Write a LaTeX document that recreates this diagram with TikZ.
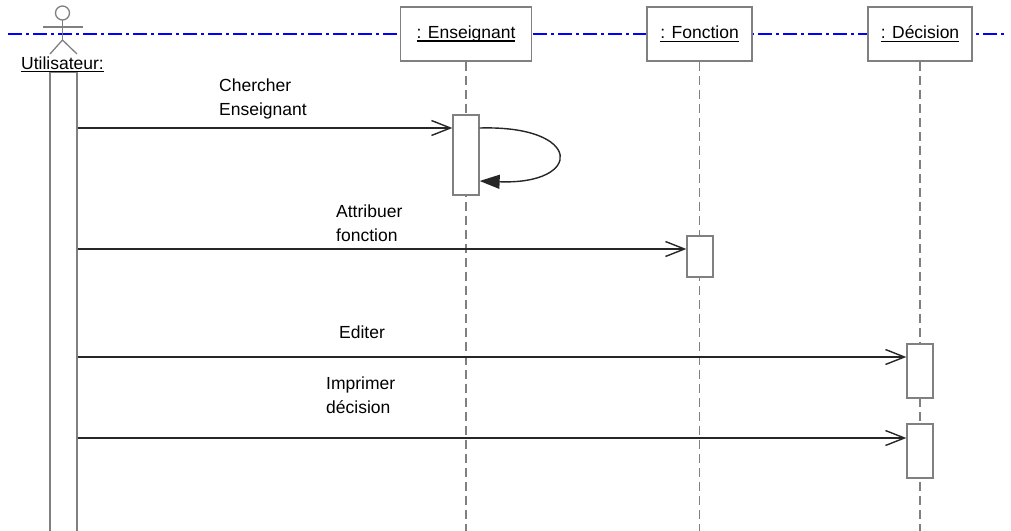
\documentclass[tikz,border=0pt]{standalone}
\usepackage{fontspec}
\setmainfont{Liberation Sans}
\usetikzlibrary{arrows.meta}
\definecolor{linegray}{RGB}{128,128,128}
\definecolor{sepblue}{RGB}{0,0,255}
\newcommand\ulabel[1]{{\setbox0\hbox{#1}\rlap{\rule[-3pt]{\wd0}{1.2pt}}\box0}}
\tikzset{
  obj/.style={draw=linegray, fill=white, line width=1.3pt, inner sep=0pt, minimum height=54pt, font=\fontsize{17.5}{21}\selectfont},
  act/.style={draw=linegray, fill=white, line width=1.3pt, inner sep=0pt, minimum width=26pt},
  life/.style={draw=linegray, line width=1.3pt, dash pattern=on 9pt off 5pt},
  msg/.style={draw=black!85, line width=1.4pt, -{Straight Barb[length=19pt,width=15pt]}},
  selfmsg/.style={draw=black!85, line width=1.4pt, -{Triangle[length=20pt,width=14pt]}},
  lbl/.style={anchor=north west, inner sep=0pt, align=left, font=\fontsize{17.5}{24}\selectfont},
}

\begin{document}
\begin{tikzpicture}[x=1pt, y=-1pt]
		%%%%% START %%%%%
		\useasboundingbox (0, 0) rectangle (1011, 530);
		\coordinate (bot) at (0, 540);
		
		\draw[sepblue, line width=1.3pt, dash pattern=on 14pt off 4pt on 3pt off 4pt] (8, 34) -- (1005, 34);
		
		% actor
		\draw[linegray, line width=1.3pt] (62.5, 13) circle (7);
		\draw[linegray, line width=1.3pt] (62.5, 20) -- (62.5, 40);
		\draw[linegray, line width=1.3pt] (43, 27) -- (83, 27);
		\draw[linegray, line width=1.3pt] (50, 54) -- (62.5, 40) -- (77, 54);
		\node[act, minimum width=27pt, minimum height=473pt] (usr) at (63.5, 308.5) {};
		\node[anchor=base west, inner sep=0pt, font=\fontsize{17.5}{21}\selectfont] (usrlbl) at (21, 69) {\ulabel{Utilisateur:}};
		
		% objects
		\node[obj, minimum width=131pt] (ens) at (466, 34) {\ulabel{: Enseignant}};
		\node[obj, minimum width=105pt] (fct) at (699.5, 34) {\ulabel{: Fonction}};
		\node[obj, minimum width=104pt] (dec) at (920, 34) {\ulabel{: Décision}};
		
		\draw[life] (ens.south) -- (ens.south |- bot);
		\draw[life] (fct.south) -- (fct.south |- bot);
		\draw[life] (dec.south) -- (dec.south |- bot);
		
		\node[act, minimum height=80pt] (act1) at (466, 155) {};
		\node[act, minimum height=41pt] (act2) at (700, 256.5) {};
		\node[act, minimum height=54pt] (act3) at (920, 371) {};
		\node[act, minimum height=54pt] (act4) at (920, 451) {};
		
		% messages
		\coordinate (m1) at (0, 128);
		\coordinate (m1b) at (0, 181);
		\coordinate (m2) at (0, 249);
		\coordinate (m3) at (0, 357);
		\coordinate (m4) at (0, 438);
		
		\draw[msg] (usr.east |- m1) -- (act1.west |- m1);
		\draw[selfmsg] (act1.east |- m1) .. controls +(104, -3) and +(104, 4) .. (act1.east |- m1b);
		\draw[msg] (usr.east |- m2) -- (act2.west |- m2);
		\draw[msg] (usr.east |- m3) -- (act3.west |- m3);
		\draw[msg] (usr.east |- m4) -- (act4.west |- m4);
		
		\node[lbl] (l1) at (219, 79) {Chercher\\Enseignant};
		\node[lbl] (l2) at (336, 205) {Attribuer\\fonction};
		\node[lbl] (l3) at (339, 326) {Editer};
		\node[lbl] (l4) at (326, 377) {Imprimer\\décision};
		%%%%% END %%%%%
	\end{tikzpicture}
\end{document}
